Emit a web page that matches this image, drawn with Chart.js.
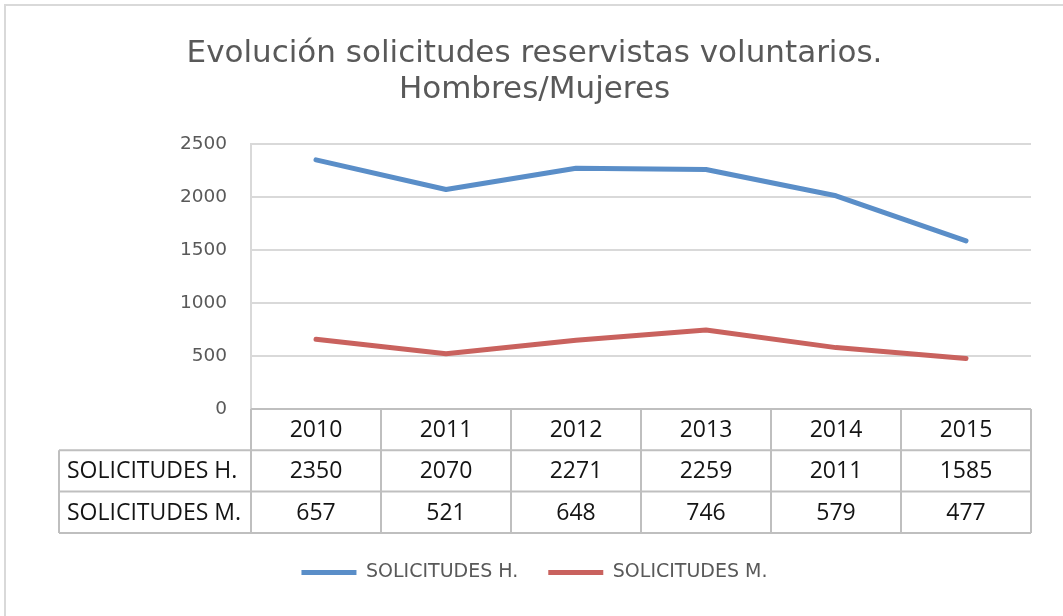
<!DOCTYPE html>
<html>
<head>
<meta charset="utf-8">
<script src="https://cdn.jsdelivr.net/npm/chart.js@4/dist/chart.umd.min.js"></script>
<style>
  html, body { margin: 0; padding: 0; background: #fff; overflow: hidden; }
  #frame { position: absolute; left: 4px; top: 4px; width: 1200px; height: 800px; border: 2px solid #d9d9d9; box-sizing: border-box; }
  #wrap { position: absolute; left: 0; top: 0; width: 1063px; height: 616px; }
</style>
</head>
<body>
<div id="frame"></div>
<div id="wrap"><canvas id="c" width="1063" height="616"></canvas></div>
<script>
const categories = ['2010', '2011', '2012', '2013', '2014', '2015'];
const hombres = [2350, 2070, 2271, 2259, 2011, 1585];
const mujeres = [657, 521, 648, 746, 579, 477];
const seriesNames = ['SOLICITUDES H.', 'SOLICITUDES M.'];
const yTicks = [0, 500, 1000, 1500, 2000, 2500];
const titleLines = ['Evolución solicitudes reservistas voluntarios.', 'Hombres/Mujeres'];

const CHART_FONT = "'DejaVu Sans', Verdana, sans-serif";
const TABLE_FONT = "'Open Sans', 'Liberation Sans', sans-serif";
const TABLE_ROW = 41.3;
const LABEL_LEFT = 59;

const dataTablePlugin = {
  id: 'dataTable',
  afterDraw(chart) {
    const ctx = chart.ctx;
    const xs = chart.scales.x;
    const area = chart.chartArea;
    const n = categories.length;
    const colW = (area.right - area.left) / n;
    const top = area.bottom;
    const rows = [top, top + TABLE_ROW, top + 2 * TABLE_ROW, top + 3 * TABLE_ROW];
    ctx.save();
    ctx.strokeStyle = '#bfbfbf';
    ctx.lineWidth = 2;
    ctx.beginPath();
    ctx.moveTo(area.left, rows[0]); ctx.lineTo(area.right, rows[0]);
    for (let r = 1; r <= 3; r++) {
      ctx.moveTo(LABEL_LEFT, rows[r]); ctx.lineTo(area.right, rows[r]);
    }
    for (let i = 0; i <= n; i++) {
      const x = area.left + i * colW;
      ctx.moveTo(x, rows[0]); ctx.lineTo(x, rows[3]);
    }
    ctx.moveTo(LABEL_LEFT, rows[1]); ctx.lineTo(LABEL_LEFT, rows[3]);
    ctx.stroke();

    ctx.fillStyle = '#141414';
    ctx.font = "23px " + TABLE_FONT;
    ctx.textBaseline = 'middle';
    ctx.textAlign = 'center';
    const series = [hombres, mujeres];
    for (let i = 0; i < n; i++) {
      const cx = xs.getPixelForValue(i);
      ctx.fillText(categories[i], cx, (rows[0] + rows[1]) / 2 + 1);
      for (let s = 0; s < 2; s++) {
        ctx.fillText(String(series[s][i]), cx, (rows[s + 1] + rows[s + 2]) / 2 + 1);
      }
    }
    ctx.textAlign = 'left';
    for (let s = 0; s < 2; s++) {
      ctx.fillText(seriesNames[s], LABEL_LEFT + 8, (rows[s + 1] + rows[s + 2]) / 2 + 1);
    }
    ctx.restore();
  }
};

new Chart(document.getElementById('c'), {
  type: 'line',
  data: {
    labels: categories,
    datasets: [
      { label: seriesNames[0], data: hombres, borderColor: '#5a8ec8', backgroundColor: '#5a8ec8', borderWidth: 5, pointRadius: 0, borderCapStyle: 'round', borderJoinStyle: 'round', tension: 0 },
      { label: seriesNames[1], data: mujeres, borderColor: '#c9625e', backgroundColor: '#c9625e', borderWidth: 5, pointRadius: 0, borderCapStyle: 'round', borderJoinStyle: 'round', tension: 0 }
    ]
  },
  options: {
    responsive: false,
    animation: false,
    layout: { padding: { left: 38, right: 32, top: 0, bottom: 24 } },
    plugins: {
      title: {
        display: true,
        text: titleLines,
        color: '#595959',
        font: { family: CHART_FONT, size: 31, weight: 'normal', lineHeight: 1.16 },
        padding: { top: 36, bottom: 36 }
      },
      legend: {
        position: 'bottom',
        labels: {
          usePointStyle: true,
          pointStyle: 'line',
          pointStyleWidth: 55,
          boxHeight: 5,
          padding: 30,
          color: '#595959',
          font: { family: CHART_FONT, size: 19 }
        }
      },
      tooltip: { enabled: false }
    },
    scales: {
      x: {
        type: 'category',
        offset: true,
        ticks: { display: false },
        grid: { display: false },
        border: { display: false },
        afterFit(scale) { scale.height = 124; }
      },
      y: {
        min: 0,
        max: 2500,
        afterBuildTicks(scale) { scale.ticks = yTicks.map(v => ({ value: v })); },
        ticks: { color: '#595959', font: { family: CHART_FONT, size: 18.5 }, padding: 24, callback: v => String(v) },
        grid: { color: '#d9d9d9', lineWidth: 2, drawTicks: false },
        border: { display: true, color: '#d9d9d9', width: 2 },
        afterFit(scale) { scale.width = 213; }
      }
    }
  },
  plugins: [dataTablePlugin]
});
</script>
</body>
</html>
